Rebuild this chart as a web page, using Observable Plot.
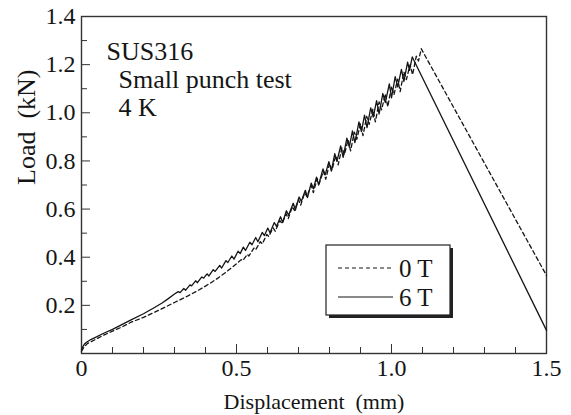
<!DOCTYPE html>
<html><head><meta charset="utf-8">
<script src="https://cdn.jsdelivr.net/npm/d3@7"></script>
<script src="https://cdn.jsdelivr.net/npm/@observablehq/plot@0.6"></script>
<style>
body{margin:0;background:#fff}
#chart{position:relative;width:571px;height:415px}
</style>
</head><body><div id="chart"></div>
<script>
// Displacement (mm), Load (kN)
const series0T = [
[0,0.01],[0.01,0.03],[0.02,0.042],[0.04,0.055],[0.07,0.075],[0.1,0.093],[0.13,0.11],[0.16,0.13],[0.2,0.15],[0.25,0.18],[0.3,0.212],[0.34,0.237],[0.38,0.265],[0.40,0.28],[0.42,0.296],[0.44,0.313],[0.46,0.332],[0.48,0.352],[0.50,0.373],
[0.515,0.39],[0.52,0.386],[0.535,0.412],[0.54,0.405],[0.556,0.438],[0.562,0.431],[0.577,0.465],[0.583,0.455],[0.598,0.495],[0.604,0.486],[0.618,0.522],[0.625,0.508],[0.64,0.552],[0.647,0.54],[0.66,0.58],[0.667,0.56],[0.68,0.61],[0.687,0.594],[0.70,0.64],[0.707,0.616],[0.72,0.668],[0.727,0.652],[0.741,0.698],[0.748,0.668],[0.76,0.727],[0.767,0.706],[0.78,0.758],[0.788,0.724],[0.80,0.79],[0.808,0.762],[0.82,0.822],[0.828,0.784],[0.84,0.855],[0.848,0.826],[0.86,0.888],[0.868,0.842],[0.88,0.92],[0.888,0.89],[0.90,0.955],[0.908,0.905],[0.92,0.985],[0.928,0.952],[0.94,1.015],[0.948,0.962],[0.96,1.045],[0.968,1.012],[0.98,1.078],[0.988,1.025],[1.0,1.11],[1.008,1.075],[1.02,1.14],[1.028,1.088],[1.04,1.17],[1.048,1.138],[1.06,1.2],[1.068,1.158],[1.08,1.235],[1.087,1.215],[1.096,1.266],[1.5,0.324]
];
const series6T = [
[0,0.015],[0.005,0.03],[0.01,0.04],[0.02,0.05],[0.03,0.058],[0.05,0.07],[0.07,0.083],[0.1,0.10],[0.13,0.12],[0.16,0.14],[0.2,0.165],[0.23,0.187],[0.26,0.21],[0.28,0.228],[0.30,0.247],
[0.312,0.257],[0.318,0.253],[0.330,0.270],[0.336,0.263],[0.350,0.285],[0.355,0.281],[0.368,0.302],[0.374,0.294],[0.388,0.318],[0.394,0.313],[0.405,0.331],[0.411,0.322],[0.425,0.348],[0.431,0.341],[0.446,0.366],[0.452,0.355],[0.466,0.386],[0.472,0.378],[0.485,0.405],[0.492,0.392],[0.505,0.425],[0.512,0.415],[0.522,0.442],[0.529,0.428],[0.543,0.462],[0.55,0.452],[0.562,0.482],[0.569,0.464],[0.583,0.503],[0.59,0.49],[0.601,0.521],[0.608,0.502],[0.622,0.544],[0.629,0.528],[0.642,0.568],[0.649,0.544],[0.661,0.593],[0.668,0.574],[0.683,0.624],[0.69,0.596],[0.702,0.65],[0.709,0.632],[0.722,0.678],[0.729,0.648],[0.741,0.708],[0.748,0.684],[0.758,0.733],[0.765,0.7],[0.779,0.767],[0.786,0.742],[0.798,0.797],[0.806,0.758],[0.817,0.83],[0.824,0.798],[0.836,0.862],[0.844,0.815],[0.856,0.895],[0.864,0.858],[0.874,0.925],[0.882,0.876],[0.895,0.962],[0.903,0.922],[0.913,0.99],[0.921,0.938],[0.933,1.02],[0.941,0.982],[0.952,1.05],[0.96,0.995],[0.972,1.08],[0.98,1.042],[0.993,1.12],[1.0,1.062],[1.012,1.15],[1.02,1.108],[1.032,1.18],[1.04,1.13],[1.052,1.21],[1.058,1.176],[1.067,1.232],[1.5,0.096]
];
const seriesNames = ["0 T", "6 T"];
const xTicksMajor = [0, 0.5, 1.0, 1.5];
const xTickLabels = ["0", "0.5", "1.0", "1.5"];
const xTicksMinor = [0.1,0.2,0.3,0.4,0.6,0.7,0.8,0.9,1.1,1.2,1.3,1.4];
const yTicksMajor = [0.2,0.4,0.6,0.8,1.0,1.2,1.4];
const yTickLabels = ["0.2","0.4","0.6","0.8","1.0","1.2","1.4"];
const yTicksMinor = [0.1,0.3,0.5,0.7,0.9,1.1,1.3];
const annotations = ["SUS316", "Small punch test", "4 K"];
const xTitle = "Displacement\u00a0\u00a0(mm)";
const yTitle = "Load\u00a0\u00a0(kN)";

const rows0 = series0T.map(([d, L]) => ({d, L, s: seriesNames[0]}));
const rows6 = series6T.map(([d, L]) => ({d, L, s: seriesNames[1]}));
const ink = "#151515";
const serif = "Liberation Serif";

const plot = Plot.plot({
  width: 571, height: 415,
  marginLeft: 81, marginRight: 25, marginTop: 16, marginBottom: 62,
  style: {fontFamily: "'Liberation Serif', serif", fontSize: "22px", color: ink, background: "#fff"},
  x: {domain: [0, 1.5]},
  y: {domain: [0, 1.4]},
  marks: [
    Plot.frame({stroke: "#333", strokeWidth: 1.4}),
    Plot.axisX(xTicksMinor, {tickSize: -6, tickFormat: () => "", label: null, stroke: "#333"}),
    Plot.axisX(xTicksMajor, {tickSize: -9, tickPadding: 14, fontSize: 24, fontFamily: serif, tickFormat: d => xTickLabels[xTicksMajor.indexOf(d)], label: null, stroke: "#333"}),
    Plot.axisY(yTicksMinor, {tickSize: -6, tickFormat: () => "", label: null, stroke: "#333"}),
    Plot.axisY(yTicksMajor, {tickSize: -9, tickPadding: 15, fontSize: 24, fontFamily: serif, tickFormat: d => yTickLabels[yTicksMajor.indexOf(d)], label: null, stroke: "#333"}),
    Plot.line(rows0, {x: "d", y: "L", stroke: ink, strokeWidth: 1.3, strokeDasharray: "4,3"}),
    Plot.line(rows6, {x: "d", y: "L", stroke: ink, strokeWidth: 1.3}),
    Plot.text([annotations[0]], {frameAnchor: "top-left", text: d => d, textAnchor: "start", lineAnchor: "top", dx: 25, dy: 25, fontSize: 26, fontFamily: serif}),
    Plot.text([annotations[1]], {frameAnchor: "top-left", text: d => d, textAnchor: "start", lineAnchor: "top", dx: 37, dy: 53, fontSize: 26, fontFamily: serif}),
    Plot.text([annotations[2]], {frameAnchor: "top-left", text: d => d, textAnchor: "start", lineAnchor: "top", dx: 37, dy: 81, fontSize: 26, fontFamily: serif}),
    Plot.text([xTitle], {frameAnchor: "bottom", text: d => d, lineAnchor: "top", dy: 40, fontSize: 22, fontFamily: serif}),
    Plot.text([yTitle], {frameAnchor: "left", text: d => d, lineAnchor: "top", rotate: -90, dx: -65, fontSize: 26, fontFamily: serif})
  ]
});
document.getElementById("chart").appendChild(plot);

// legend box
const svg = d3.select(plot);
const lx = 326, ly = 245, lw = 124, lh = 70;
const g = svg.append("g").attr("class", "legend").attr("text-anchor", "start");
g.append("rect").attr("x", lx + 3).attr("y", ly + 3).attr("width", lw).attr("height", lh).attr("fill", "#222");
g.append("rect").attr("x", lx).attr("y", ly).attr("width", lw).attr("height", lh).attr("fill", "#fff").attr("stroke", "#222").attr("stroke-width", 1.2);
seriesNames.forEach((name, i) => {
  const yy = ly + 23 + i * 29;
  g.append("line").attr("x1", lx + 12).attr("x2", lx + 67).attr("y1", yy).attr("y2", yy)
    .attr("stroke", ink).attr("stroke-width", 1.2).attr("stroke-dasharray", i === 0 ? "4,3" : null);
  g.append("text").attr("x", lx + 73).attr("y", yy + 9).attr("font-size", 25).attr("font-family", serif).attr("fill", ink).text(name);
});
</script>
</body></html>
